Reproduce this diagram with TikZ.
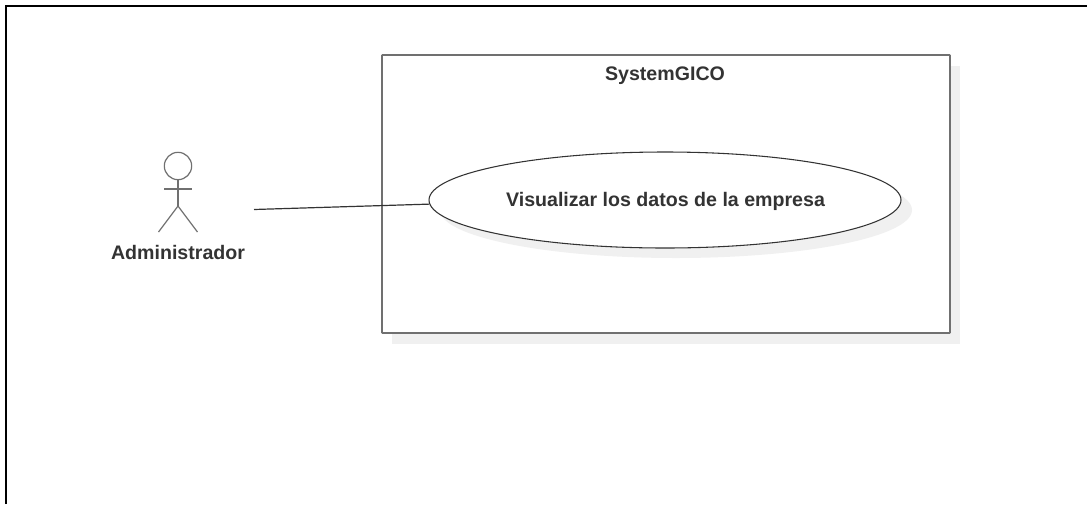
\documentclass[tikz,border=0pt]{standalone}
\usepackage{fontspec}
\usetikzlibrary{shapes.geometric}
\setmainfont{Liberation Sans}
\definecolor{shadowgray}{HTML}{F0F0F0}
\definecolor{linegray}{HTML}{707070}
\definecolor{textgray}{HTML}{333333}
\tikzset{
  px/.style={x=0.75pt,y=-0.75pt},
  umlline/.style={draw=linegray,line width=1.3pt},
  thinline/.style={draw=black!80,line width=0.8pt},
  umllabel/.style={text=textgray,font=\fontsize{14.7}{17}\selectfont\bfseries,inner sep=0pt},
}
\begin{document}
\begin{tikzpicture}[px]
\useasboundingbox (0,0) rectangle (1087,504);
\draw[black,line width=1.5pt] (6,504) -- (6,6) -- (1087,6);
\fill[shadowgray] (392,66) rectangle (960,343.5);
\node[umlline,fill=white,rectangle,minimum width=426pt,minimum height=208.5pt,inner sep=0pt,rounded corners=0.5pt] (sys) at (666,194) {};
\node[umllabel] (syslabel) at (665,75.5) {SystemGICO};
\fill[shadowgray] (676,210) ellipse [x radius=236,y radius=48];
\node[thinline,fill=white,ellipse,minimum width=354pt,minimum height=72pt,inner sep=0pt] (uc) at (665,200) {};
\node[umllabel] (uclabel) at (665.5,201.5) {Visualizar los datos de la empresa};
\node[draw=linegray,line width=0.9pt,circle,minimum size=20.5pt,inner sep=0pt] (head) at (178,166) {};
\coordinate (hip) at (178,206);
\coordinate (armL) at (164,189);
\coordinate (armR) at (192,189);
\coordinate (footL) at (158.5,232);
\coordinate (footR) at (197.5,232);
\draw[umlline,line width=0.9pt] (head.south) -- (hip);
\draw[umlline,line width=0.9pt] (armL) -- (armR);
\draw[umlline,line width=0.9pt] (hip) -- (footL);
\draw[umlline,line width=0.9pt] (hip) -- (footR);
\node[umllabel] (actor) at (178,252.5) {Administrador};
\coordinate (lineend) at (254,209.5);
\draw[thinline,line width=0.9pt] (lineend) -- (uc.181);
\end{tikzpicture}
\end{document}
